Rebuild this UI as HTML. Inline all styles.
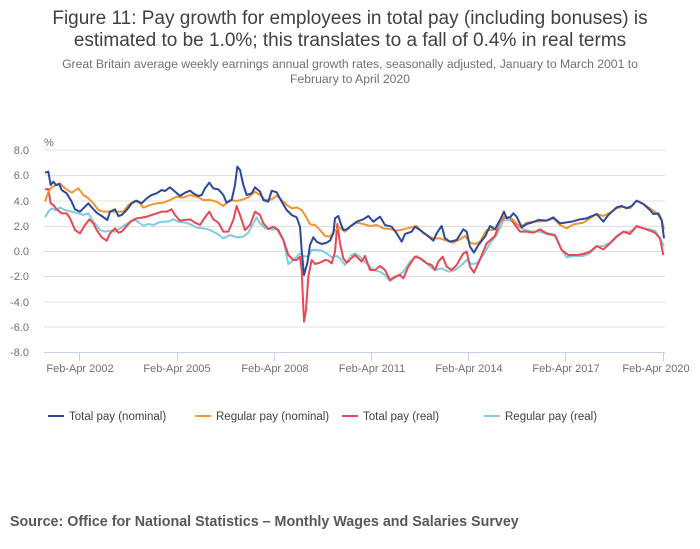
<!DOCTYPE html>
<html><head><meta charset="utf-8"><style>
body{margin:0;width:700px;height:549px;background:#fff;font-family:"Liberation Sans",sans-serif;position:relative;overflow:hidden}
.t{position:absolute;left:0;width:700px;text-align:center;color:#414042}
</style></head><body>
<div class="t" style="top:8px;font-size:19px;line-height:22px">Figure 11: Pay growth for employees in total pay (including bonuses) is<br>estimated to be 1.0%; this translates to a fall of 0.4% in real terms</div>
<div class="t" style="top:57px;font-size:12.2px;line-height:15px;color:#707070">Great Britain average weekly earnings annual growth rates, seasonally adjusted, January to March 2001 to<br>February to April 2020</div>
<svg width="700" height="549" style="position:absolute;left:0;top:0" font-family="Liberation Sans, sans-serif">
<g stroke="#e0e0e0" stroke-width="1">
<line x1="44" x2="665" y1="150" y2="150"/><line x1="44" x2="665" y1="175.5" y2="175.5"/><line x1="44" x2="665" y1="201" y2="201"/><line x1="44" x2="665" y1="226.5" y2="226.5"/><line x1="44" x2="665" y1="251.5" y2="251.5"/><line x1="44" x2="665" y1="276.5" y2="276.5"/><line x1="44" x2="665" y1="302" y2="302"/><line x1="44" x2="665" y1="327" y2="327"/>
</g>
<line x1="44" x2="665" y1="352.5" y2="352.5" stroke="#c5d0e6"/>
<g stroke="#c5d0e6"><line x1="79.5" x2="79.5" y1="352" y2="361"/><line x1="177.5" x2="177.5" y1="352" y2="361"/><line x1="274.5" x2="274.5" y1="352" y2="361"/><line x1="371.5" x2="371.5" y1="352" y2="361"/><line x1="468.5" x2="468.5" y1="352" y2="361"/><line x1="565.5" x2="565.5" y1="352" y2="361"/><line x1="663.5" x2="663.5" y1="352" y2="361"/></g>
<g font-size="11" fill="#707070" text-anchor="end">
<text x="29" y="154">8.0</text><text x="29" y="179">6.0</text><text x="29" y="205">4.0</text><text x="29" y="230">2.0</text><text x="29" y="255">0.0</text><text x="29" y="280">-2.0</text><text x="29" y="306">-4.0</text><text x="29" y="331">-6.0</text><text x="29" y="356">-8.0</text>
</g>
<text x="44" y="146" font-size="11" fill="#707070">%</text>
<g font-size="11" fill="#707070" text-anchor="middle">
<text x="80" y="372">Feb-Apr 2002</text><text x="177" y="372">Feb-Apr 2005</text><text x="275" y="372">Feb-Apr 2008</text><text x="372" y="372">Feb-Apr 2011</text><text x="469" y="372">Feb-Apr 2014</text><text x="566" y="372">Feb-Apr 2017</text><text x="656" y="372">Feb-Apr 2020</text>
</g>
<g fill="none" stroke-width="2" stroke-linejoin="round">
<g transform="translate(0,130) scale(0.33333)">
<polyline vector-effect="non-scaling-stroke" stroke="#7fcbe4" points="135,262 145,245 155,235 165,240 180,233 195,240 215,245 235,250 250,255 265,250 280,275 300,300 315,305 330,302 345,305 360,295 375,285 390,275 405,270 420,280 430,287 445,282 460,285 475,278 490,275 505,275 520,268 535,275 550,277 570,282 590,293 610,295 630,300 650,310 670,325 690,315 710,322 730,320 745,308 760,280 770,262 780,280 795,295 815,298 830,298 850,330 865,402 875,395 890,380 900,370 910,378 925,380 935,360 950,360 965,362 980,370 995,382 1010,378 1020,385 1035,405 1050,382"/>
<polyline vector-effect="non-scaling-stroke" stroke="#e8484f" points="135,178 145,177 152,220 160,225 170,238 185,250 200,250 210,265 225,300 240,310 255,285 268,268 280,280 290,300 305,322 320,332 330,310 345,295 355,308 365,305 380,288 395,272 410,265 425,263 440,260 455,255 470,250 485,245 500,245 515,238 525,255 540,272 555,270 570,268 585,278 600,285 615,262 628,245 640,268 655,278 670,305 685,305 700,270 710,228 720,255 735,300 750,285 765,245 780,255 790,280 805,297 820,290 835,300 850,330 865,375 880,390 890,390 900,380 905,420 912,575 918,540 925,440 935,390 945,402 960,398 975,390 985,392 995,400 1005,365 1012,282 1020,340 1030,385 1040,398 1050,390"/>
<polyline vector-effect="non-scaling-stroke" stroke="#f39431" points="135,215 145,185 155,172 170,165 180,160 195,175 215,188 235,175 250,195 265,205 280,220 295,240 310,245 330,245 350,245 370,245 385,225 405,212 420,220 430,233 450,225 470,220 490,218 510,210 530,200 550,203 570,195 590,200 610,210 630,210 650,215 670,228 690,210 710,213 730,208 745,202 765,185 780,195 795,210 815,208 830,197 845,210 860,225 875,235 890,232 905,240 915,255 930,283 945,285 960,300 975,318 990,320 1005,300 1020,293 1035,305 1050,292"/>
<polyline vector-effect="non-scaling-stroke" stroke="#2a4a9a" points="135,128 145,125 152,165 160,155 168,165 178,162 185,180 200,190 215,215 225,238 240,245 255,230 265,220 275,232 290,248 305,258 322,270 330,245 345,238 355,258 365,255 380,240 395,220 410,212 425,220 440,205 455,195 470,190 485,180 495,183 510,172 525,185 540,198 555,188 570,182 580,190 595,198 605,195 615,175 628,158 640,175 655,178 670,195 680,218 695,210 705,165 712,110 720,120 730,165 740,195 755,190 765,172 780,185 790,210 805,215 815,182 830,187 845,215 860,240 875,255 890,262 900,290 905,360 912,435 922,400 930,345 940,322 950,335 965,342 980,338 990,332 1000,310 1005,265 1015,258 1022,280 1030,300 1040,298 1050,290"/>
</g>
<g transform="translate(350,130) scale(0.33333)">
<polyline vector-effect="non-scaling-stroke" stroke="#7fcbe4" points="0,378 15,370 30,380 50,400 70,420 90,425 105,435 120,453 140,440 160,425 180,395 200,378 220,390 240,410 255,420 275,415 295,425 315,420 335,405 350,390 365,402 380,400 400,375 420,340 440,315 460,272 480,270 500,285 520,298 545,305 570,305 590,312 615,318 635,360 650,382 670,378 700,378 720,370 740,350 760,348 780,338 800,318 820,305 840,305 860,290 880,295 900,298 915,302 930,325 942,348"/>
<polyline vector-effect="non-scaling-stroke" stroke="#e8484f" points="0,388 15,375 25,385 35,395 45,378 60,420 75,420 90,408 105,420 120,450 135,440 150,435 160,445 175,410 195,380 210,385 230,400 245,405 255,420 265,395 278,380 290,410 305,420 320,405 340,370 350,365 360,410 372,428 385,400 410,340 435,318 450,275 465,262 480,262 495,285 510,305 530,305 550,308 570,298 590,310 615,315 635,360 655,375 680,375 700,372 720,365 740,348 760,358 780,340 800,320 820,305 840,312 860,288 880,295 900,302 915,308 930,325 940,375"/>
<polyline vector-effect="non-scaling-stroke" stroke="#f39431" points="0,290 20,278 40,282 60,288 80,285 100,295 120,297 140,302 160,298 180,293 200,288 220,310 250,325 270,325 290,332 310,338 330,328 345,318 360,338 375,342 390,335 410,300 425,300 440,295 460,260 480,262 495,275 510,292 530,278 560,275 590,272 610,265 630,285 650,295 670,283 700,278 740,252 760,258 780,248 800,235 820,230 840,235 860,212 880,222 900,235 920,250 935,270 942,298"/>
<polyline vector-effect="non-scaling-stroke" stroke="#2a4a9a" points="0,290 20,275 40,268 55,258 70,275 90,260 105,285 125,290 140,310 155,335 165,312 185,305 195,290 210,300 230,315 250,332 260,310 275,288 285,325 300,335 320,330 340,298 350,305 360,350 372,368 385,345 405,320 420,288 435,298 450,270 462,245 470,265 480,262 490,250 500,260 515,292 530,282 545,278 565,270 590,272 610,262 630,280 645,278 665,275 690,268 710,265 740,252 760,275 775,255 800,232 815,228 830,235 845,228 860,212 880,222 900,240 910,252 925,250 935,270 942,325"/>
</g>
</g>
<g font-size="11.5" fill="#414042">
<line x1="48" x2="64" y1="416" y2="416" stroke="#2a4a9a" stroke-width="2"/><text x="69" y="420">Total pay (nominal)</text>
<line x1="195" x2="211" y1="416" y2="416" stroke="#f39431" stroke-width="2"/><text x="216" y="420">Regular pay (nominal)</text>
<line x1="342" x2="358" y1="416" y2="416" stroke="#e8484f" stroke-width="2"/><text x="363" y="420">Total pay (real)</text>
<line x1="484" x2="500" y1="416" y2="416" stroke="#7fcbe4" stroke-width="2"/><text x="505" y="420">Regular pay (real)</text>
</g>
<text x="10" y="526" font-size="14.3" font-weight="bold" fill="#58585a">Source: Office for National Statistics – Monthly Wages and Salaries Survey</text>
</svg>
</body></html>
